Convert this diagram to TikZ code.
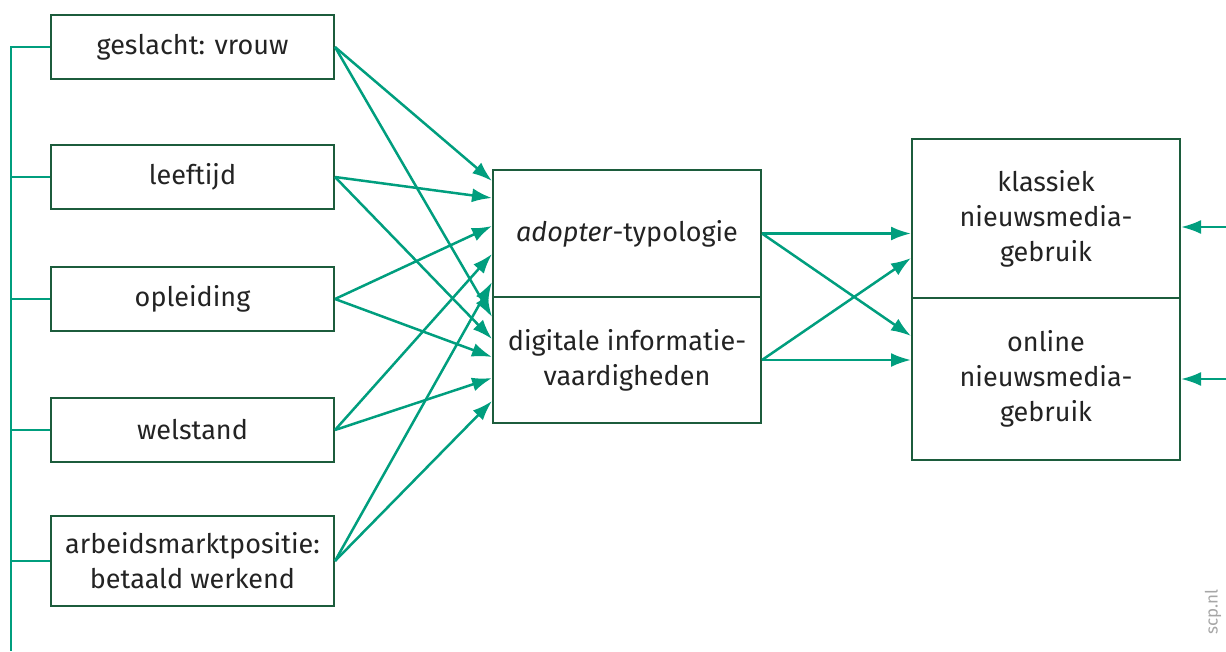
\documentclass[tikz,border=0pt]{standalone}
\usepackage{fontspec}
\setmainfont{Fira Sans}
\usetikzlibrary{arrows.meta, positioning}

\definecolor{scpgreen}{RGB}{0,158,126}
\definecolor{boxgreen}{RGB}{28,92,60}
\definecolor{txtgrey}{RGB}{35,35,35}

\begin{document}
\begin{tikzpicture}[
    x=1pt, y=1pt,
    font=\fontsize{27}{35}\selectfont,
    factor/.style={rectangle, draw=boxgreen, line width=2pt, text=txtgrey, minimum width=283pt, minimum height=64pt, align=center, inner sep=0pt},
    mediator/.style={rectangle, draw=boxgreen, line width=2pt, text=txtgrey, minimum width=268pt, align=center, inner sep=0pt},
    effect/.style={draw=scpgreen, line width=2.5pt, -{Latex[length=20pt, width=14pt]}},
    bus/.style={draw=scpgreen, line width=2.5pt}
]

\useasboundingbox (0,0) rectangle (1226,-651);

% Background factors
\node[factor] (geslacht) at (192.5,-47) {geslacht: vrouw};
\node[factor] (leeftijd) at (192.5,-177) {leeftijd};
\node[factor] (opleiding) at (192.5,-299) {opleiding};
\node[factor] (welstand) at (192.5,-430) {welstand};
\node[factor, minimum height=90pt] (arbeid) at (192.5,-561) {arbeidsmarktpositie:\\betaald werkend};

% Mediators
\node[mediator, minimum height=127pt] (adopter) at (627,-233.5) {\textit{adopter}-typologie};
\node[mediator, minimum height=126pt] (digitaal) at (627,-360) {digitale informatie-\\vaardigheden};

% Outcomes
\node[mediator, minimum height=159pt] (klassiek) at (1046,-218.5) {klassiek\\nieuwsmedia-\\gebruik};
\node[mediator, minimum height=162pt] (online) at (1046,-379) {online\\nieuwsmedia-\\gebruik};

% Left bus
\coordinate (busbot) at (11,-651);
\draw[bus] (geslacht.west) -| (busbot);
\foreach \f in {leeftijd, opleiding, welstand, arbeid}
    \draw[bus] (\f.west) -- (\f.west -| busbot);

% Factors to mediators
\draw[effect] (geslacht.east) -- ([yshift=-12pt]adopter.north west);
\draw[effect] (geslacht.east) -- ([yshift=-21pt]digitaal.north west);
\draw[effect] (leeftijd.east) -- ([yshift=-29pt]adopter.north west);
\draw[effect] (leeftijd.east) -- ([yshift=-43pt]digitaal.north west);
\draw[effect] (opleiding.east) -- ([yshift=-57pt]adopter.north west);
\draw[effect] (opleiding.east) -- ([yshift=-61pt]digitaal.north west);
\draw[effect] (welstand.east) -- ([yshift=-85pt]adopter.north west);
\draw[effect] (welstand.east) -- ([yshift=-82pt]digitaal.north west);
\draw[effect] (arbeid.east) -- ([yshift=-113pt]adopter.north west);
\draw[effect] (arbeid.east) -- ([yshift=-105pt]digitaal.north west);

% Mediators to outcomes
\draw[effect] (adopter.east) -- (adopter.east -| klassiek.west);
\draw[effect] (adopter.east) -- ([yshift=-39pt]online.north west);
\draw[effect] (digitaal.east) -- ([yshift=-120pt]klassiek.north west);
\draw[effect] (digitaal.east) -- (digitaal.east -| online.west);

% Incoming from the right
\coordinate (rin1) at (1226,-227);
\coordinate (rin2) at (1226,-379);
\draw[effect] (rin1) -- (rin1 -| klassiek.east);
\draw[effect] (rin2) -- (rin2 -| online.east);

% Source
\node[rotate=90, text=gray!70, font=\fontsize{17}{20}\selectfont] (bron) at (1213,-612) {scp.nl};

\end{tikzpicture}
\end{document}
